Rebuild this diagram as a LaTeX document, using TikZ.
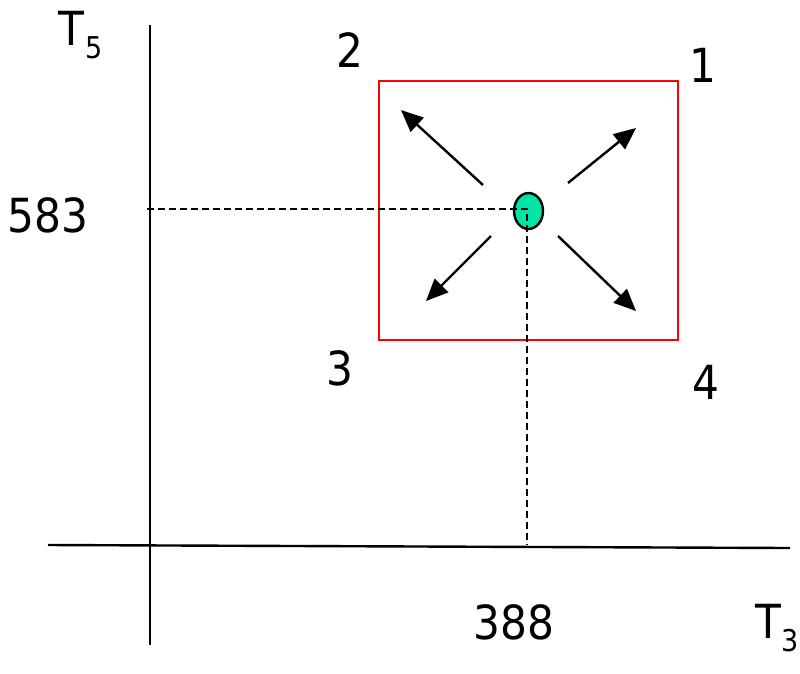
\documentclass[tikz,border=0pt]{standalone}
\usepackage{fontspec}
\setmainfont{DejaVu Sans Condensed}
\usetikzlibrary{arrows.meta,shapes.geometric}
\definecolor{dotgreen}{RGB}{0,228,166}
\begin{document}
\begin{tikzpicture}[x=1pt,y=-1pt,
  axis/.style={line width=2.4pt,black},
  lbl/.style={font=\fontsize{47}{52}\selectfont,inner sep=0pt},
  sub/.style={font=\fontsize{30}{34}\selectfont,inner sep=0pt},
  guide/.style={line width=2pt,dash pattern=on 7pt off 4pt},
  mv/.style={line width=2.4pt,-{Triangle[length=22pt,width=19pt]}}]
\useasboundingbox (0,0) rectangle (800,673);
% axes
\coordinate (yb) at (150,645); \coordinate (yt) at (150,25);
\coordinate (xl) at (48,545); \coordinate (xr) at (790,548);
\draw[axis] (yb) -- (yt);
\draw[axis] (xl) -- (xr);
% search box
\draw[red,line width=2.4pt] (379,81) rectangle (678,340);
% current point
\node[ellipse,draw,line width=2.4pt,fill=dotgreen,minimum width=29pt,minimum height=36pt,inner sep=0pt] (p) at (528.5,211) {};
\coordinate (c) at (527,209);
\coordinate (ya) at (147,209);
\coordinate (xa) at (527,545);
\draw[guide] (ya) -- (c) -- (xa);
% arrows
\coordinate (s2) at (483,185); \coordinate (t2) at (401,110);
\coordinate (s1) at (568,183); \coordinate (t1) at (636,128);
\coordinate (s3) at (491,236); \coordinate (t3) at (426,301);
\coordinate (s4) at (558,236); \coordinate (t4) at (636,311);
\draw[mv] (s2) -- (t2);
\draw[mv] (s1) -- (t1);
\draw[mv] (s3) -- (t3);
\draw[mv] (s4) -- (t4);
% labels
\node[lbl] (n2) at (350,50.5) {2};
\node[lbl] (n1) at (703,65) {1};
\node[lbl] (n3) at (340,368) {3};
\node[lbl] (n4) at (706,382) {4};
\node[lbl] (v583) at (48,215) {583};
\node[lbl] (v388) at (514,622) {388};
\node[lbl] (T5) at (71,28) {T};
\node[sub] (s5) at (94.5,48) {5};
\node[lbl] (T3) at (768,621.5) {T};
\node[sub] (s3l) at (790.5,641) {3};
\end{tikzpicture}
\end{document}
